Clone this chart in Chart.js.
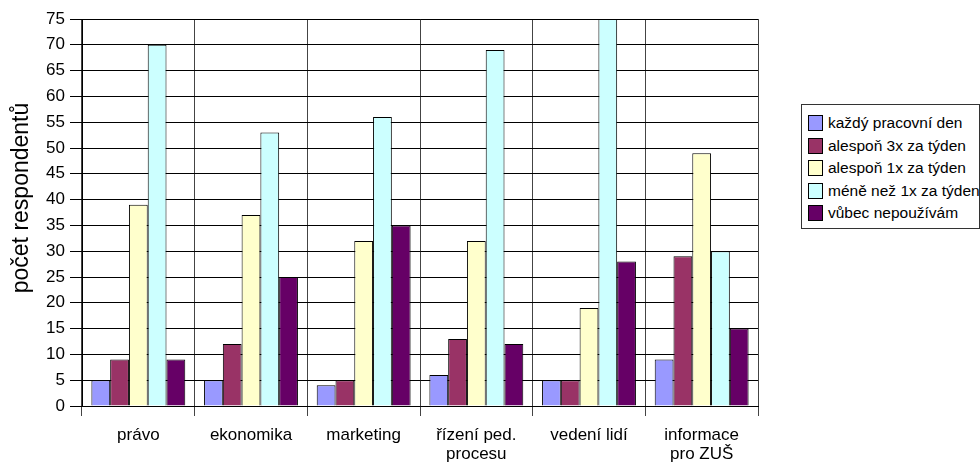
<!DOCTYPE html>
<html>
<head>
<meta charset="utf-8">
<script src="https://cdn.jsdelivr.net/npm/chart.js@4"></script>
<style>
  html, body { margin: 0; padding: 0; background: #fff; }
  #wrap { position: relative; width: 980px; height: 464px; }
  #legend {
    position: absolute; left: 801px; top: 104px; width: 177px; height: 123px;
    border: 1px solid #333; background: #fff; box-sizing: content-box;
    font-family: "Liberation Sans", Arial, sans-serif; font-size: 15.5px; color: #000;
  }
  .item { position: absolute; left: 6px; height: 18px; line-height: 18px; white-space: nowrap; }
  .sw { position: absolute; left: 0; top: 1px; width: 13px; height: 14px; border: 1px solid #000; }
  .lbl { position: absolute; left: 20px; top: 0; }
</style>
</head>
<body>
<div id="wrap">
  <canvas id="chart" width="980" height="464"></canvas>
  <div id="legend"></div>
</div>
<script>
const categories = ["právo", "ekonomika", "marketing", ["řízení ped.", "procesu"], "vedení lidí", ["informace", "pro ZUŠ"]];
const seriesNames = ["každý pracovní den", "alespoň 3x za týden", "alespoň 1x za týden", "méně než 1x za týden", "vůbec nepoužívám"];
const kazdyDen = [5, 5, 4, 6, 5, 9];
const alespon3x = [9, 12, 5, 13, 5, 29];
const alespon1x = [39, 37, 32, 32, 19, 49];
const meneNez1x = [70, 53, 56, 69, 75, 30];
const vubec = [9, 25, 35, 12, 28, 15];
const colors = ["#9999FF", "#993366", "#FFFFCC", "#CCFFFF", "#660066"];
const axisTitle = "počet respondentů";

const seriesValues = [kazdyDen, alespon3x, alespon1x, meneNez1x, vubec];
const font = "'Liberation Sans', Arial, sans-serif";

// y axis title drawn by hand so it sits where the original has it
const axisTitlePlugin = {
  id: "axisTitle",
  afterDraw(chart) {
    const ctx = chart.ctx;
    ctx.save();
    ctx.translate(28, 198);
    ctx.rotate(-Math.PI / 2);
    ctx.font = "23px " + font;
    ctx.fillStyle = "#000";
    ctx.textAlign = "center";
    ctx.textBaseline = "alphabetic";
    ctx.fillText(axisTitle, 0, 0);
    ctx.restore();
  }
};

const chart = new Chart(document.getElementById("chart"), {
  type: "bar",
  data: {
    labels: categories,
    datasets: seriesNames.map((name, i) => ({
      label: name,
      data: seriesValues[i],
      backgroundColor: colors[i],
      borderColor: "#000",
      borderWidth: 1,
      categoryPercentage: 5 / 6,
      barPercentage: 1.0
    }))
  },
  options: {
    responsive: false,
    animation: false,
    layout: { padding: { top: 19, right: 222, left: 0, bottom: 0 } },
    plugins: {
      legend: { display: false },
      tooltip: { enabled: false }
    },
    scales: {
      x: {
        grid: { offset: true, color: "#444", lineWidth: 1, tickLength: 10, drawTicks: true },
        border: { color: "#000", width: 1 },
        ticks: { color: "#000", font: { family: font, size: 17, lineHeight: 1.12 }, padding: 10, maxRotation: 0, autoSkip: false },
        afterFit(scale) { scale.height = 58; }
      },
      y: {
        min: 0,
        max: 75,
        grid: { color: "#000", lineWidth: 1, tickLength: 12 },
        border: { color: "#000", width: 1 },
        ticks: { stepSize: 5, color: "#000", font: { family: font, size: 17 }, padding: 5 },
        afterFit(scale) { scale.width = 82; }
      }
    }
  },
  plugins: [axisTitlePlugin]
});

// legend built from the same series arrays
const legend = document.getElementById("legend");
seriesNames.forEach((name, i) => {
  const item = document.createElement("div");
  item.className = "item";
  item.style.top = (9 + i * 22.6) + "px";
  item.innerHTML = '<span class="sw" style="background:' + colors[i] + '"></span><span class="lbl"></span>';
  item.querySelector(".lbl").textContent = name;
  legend.appendChild(item);
});
</script>
</body>
</html>
